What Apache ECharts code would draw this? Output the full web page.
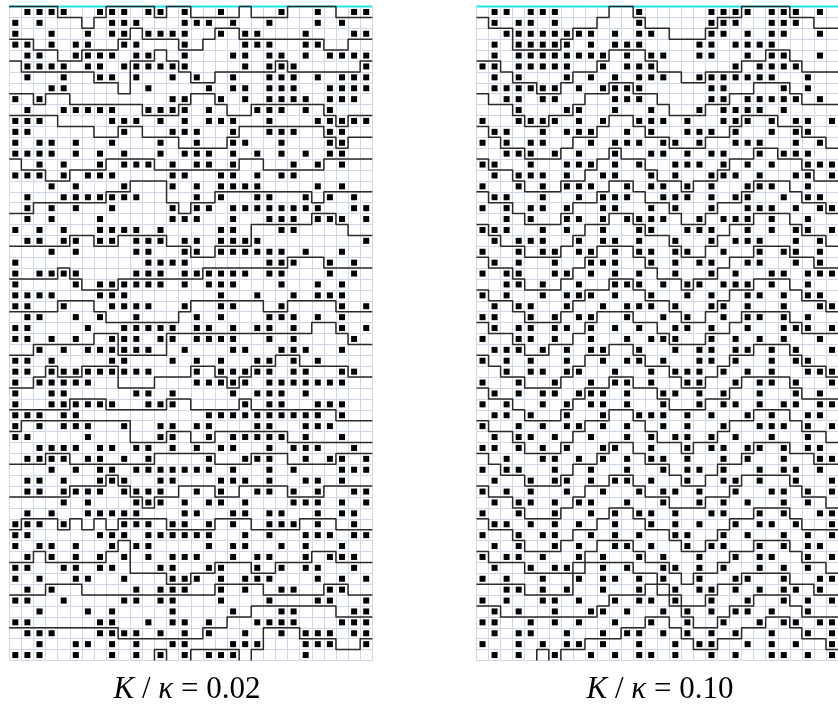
<!DOCTYPE html>
<html><head><meta charset="utf-8">
<script src="https://cdn.jsdelivr.net/npm/echarts@6/dist/echarts.min.js"></script>
<style>html,body{margin:0;padding:0;background:#fff}#chart{width:838px;height:715px}</style>
</head><body><div id="chart"></div>
<script>
// Lattice: 30 columns x 60 rows per panel; '#' marks an occupied site.
const COLS = 30, ROWS = 60;
const panelLabels = ['0.02', '0.10'];

const leftCells = [
".####..###.##.#..#....#..#..##","#.#.....###...###.#..#...#.#..","#..#..#.##.####..#.##...#...##",
"##.#.##..##...#....###..##....",".##..####.##..#...##.##.#.####",".####.##.######....#.###.....#",
".#..#..##.#..#.#..#..###.#.###","...##......#....#.##.###..####","#.#..........##..#.#.####.###.",
".#..#####..####.#...###.#.#...","###.....###.#.#.###..#...#####","##.......#...###..#..###..##..",
"#.##.#..#...#..#..##..#...##..","####.#.#.#..#.###.#.#.#.#.##..","..#.#..#.###.#.##.#....#.#.#..",
"###.#.###....##..##.#.##......","...#.#...#...#.#.####....#.#..",".#..#######....#.#..##..#.#.#.",
".#.#.#..#....#.##.########..##",".#.#...#.....###..#..###.###.#","#.#.#..####.#....##...##......",
".##.##.##.###.##.####........#","...#.#....##..##.######.#..#..","#..........####......###..#.#.",
"#.####....###.######.##...#.#.","#....#.######.#.###...#..#.#..","####...###.......#..#..#.###..",
"##..#...####..#..##...#....#.#",".##..#.#..#....#.#...###.#.#..","##....#..#####.##.#.##.#...#.#",
"##.#.#..###.##.####..#.#....#.","..#.#.######..#...##..###..#..","##.#....##...#.#.#..##.#.#....",
"##.#########...#.#####.##..##.","#.#####........#####.#######..","#..##.....##.#....#.###.#.....",
"#..######..###.....#.##..###..","###.##..........##########.#..","#.#.###..#..##.##...##..###...",
"##....#.....##..#.#####.#..#..","..####.##.##.#.#.##..#.###..#.",".####.##.#.#....#..###..#.##.#",
"...#.#.##.#######.#..#.#...###",".##.#..###..##...###.#..##.#..",".##.####.####..#.#..##.#.#..##",
"....#.#...###.#.##.#...###.#.#",".#.#..#####...##..##.##..#.##.","###.#....###.##.#.#..###.#..#.",
"##.....###.######..#.#..###.##","#.##.#..#.##....#.##..#.#..#..",".#.#.#.#.#.#.###..#.##..#.###.",
"##..##.##...##..##..#.#.##..#.","#.#..##..#...###.#.###...#.#.#",".#.#......#.###..#.#..##..##..",
"##..#....##.##...#...#...##..#","..#...#.#....#....#...##....##","##.....##..#.##.#...####...###",
".###...####.#.#.#..#..#.###.##","..#..##.#.#..##...###...###..#","###..#..#.#.#.#.###.....#....."
];

const rightCells = [
".##.###......#.....####.###.#.",".#.##.#......#.....###..###...","..########.#.##....##.#.##..#.",
".#.#####.#.###....##.####.....",".#.########.#.##..##..#.##..#.","##.#####..#.###......#.####...",
".#.#...#.#.#.###..#######..#..",".######.#.####.....##....#.#..","..##.##....###.....##.#####.#.",
"...#...##..#..#...#.####.#....","#..####.#.#..###.#..###.#.##.#",".##..#.###..#.#..###.#..#.##..",
"#.#.##...#.###.##.#..###..#.#.","..###.#.#..#..##.#.##..#.###..","##..#..###.#.#..###.#.#.#..###",
".#.###.#..##..#.#..###.#..##.#","#..#.#.###..#.##.#.#..###..#..",".##..#..#.###..###.#.##..#.##.",
"#.#.##.#..##..#.#..#..###.#.##","..#.#..##.#.####..#.###.#..#..","###..#.#..#..##..###..#.#.##.#",
".#.###..#.##.#..#..#.###..#.#.","#..#.##.##.#.##.##..#..#.##.#.",".#.#..#..###..#.#.##..##..#.#.",
"#.##..##.#.#.#..#..#.#..##.###","..##.#..#..###.#.##.###.#..#..","#.#..#.###.#..#..#.#..##.#.##.",
".#.##..#..#.###.#..##.#..#..##","##..#.#.##..#..#.#..#.##.#.#..",".#.##.##.#.#.#..##.#..#..###.#",
"#..##.#..#..#.###..#.#.#.#..#.",".###.#.#.##..#..#.##.##.#.#..#","#.#.#..#..#.##.#..##.#..#.##..",
"..#.##.##..#..#.###.#.#.#..###","#..#..#..#.##.#..##..#.##.#..#",".#.#.##.###.#..##.#.#..#..#.#.",
"#.#..#.#.##.#..#..#.##.#.##.##",".##.#..#..#..###.#.#..#.#..##.","#..#.#.##.#.#..#.#..#..###.#.#",
".#.##.#..#..#.#.##.#.#..#..#..","##.#.#.#..##..#..#.##.##.#.##.","..#..##.#.#.#.##.#..#.#..#..##",
"#.##..#..#..#..#.##.#..#.##.#.",".#..#.##.#.##.#..#..##.#..#..#","#.#.#..#..#..#.##.#..#..##.#.#",
".#.##.#.##..#..#..#.#.#..#.#..","#..#..#..#.#.##.#..##..#.#..##",".##.#.#.#..#..#.#.#..#.##.#..#",
"#..#.##..#.#.#..##..#.#..#.#.#",".#.#..#.#..##.#..#.##..#.#.##.","#.##.#..#.#..#.#..#..#.##..#.#",
".#..#.##..#.#..##.#.#..#.#.#..","#.#..#..#.##.#.#..#..##..#..##","..##.#.#..#..#..#.##.#.#.##.#.",
"#.#..##.#..#.##.#..#..#..#.#.#",".#.#..#..##.#..#.#.#.##.#..#..","##..#.#.#..#..#..#..#..#.##.##",
".#.##..#..#.##.#.#.#.#..#..#.#","#..#.#.##.#..#..#.##..#.#.#..#",".#.#..#..#.#.##.#..#.#..##.#.#"
];

// Domain walls: boundary row index for each column (60 = bottom edge, not drawn).
const leftLines = [
[0,0,0,0,1,1,2,1,0,0,0,0,1,0,0,1,1,1,1,0,1,1,1,0,0,0,0,1,1,1],
[3,3,4,4,5,5,4,4,4,3,2,3,3,3,4,4,3,2,2,3,3,3,3,3,3,3,4,4,3,3],
[5,6,6,6,6,6,6,7,7,8,5,5,4,5,6,7,7,6,6,6,6,6,5,6,6,6,6,6,6,5],
[8,8,9,8,8,9,9,9,9,9,9,10,10,10,9,8,8,9,10,10,9,9,9,9,9,9,10,11,10,10],
[10,10,10,10,11,11,11,12,12,11,11,12,12,12,13,13,13,13,12,11,11,11,11,11,11,11,12,13,12,12],
[14,15,15,16,16,15,15,15,14,14,14,14,15,15,15,15,15,15,15,14,14,15,15,15,15,15,14,14,14,14],
[19,19,18,18,18,18,18,18,17,17,16,16,16,18,19,18,18,17,17,17,17,17,17,17,17,18,17,17,17,17],
[22,22,22,22,22,21,21,22,22,21,21,21,21,22,22,23,23,22,22,22,20,20,20,20,20,19,19,20,21,21],
[25,25,25,25,24,25,26,26,26,25,25,25,25,25,25,25,24,24,24,24,24,24,24,23,23,23,24,24,24,24],
[28,28,28,28,27,27,27,28,29,29,29,29,29,29,28,27,27,27,27,27,27,28,28,27,27,27,27,28,28,28],
[32,32,31,31,31,31,31,30,30,32,32,32,32,30,30,30,30,30,30,30,30,30,30,30,30,29,29,30,31,31],
[35,35,34,33,34,34,33,33,33,35,35,35,34,34,34,33,33,34,35,34,33,33,32,32,33,33,33,33,34,34],
[37,37,37,37,37,36,36,36,37,37,37,37,37,36,36,37,37,37,37,36,37,37,37,37,37,37,37,38,38,38],
[39,38,38,38,38,38,38,38,38,38,40,40,40,39,39,40,40,39,39,39,39,39,39,40,40,40,40,40,40,40],
[42,42,42,41,41,42,42,42,42,42,42,42,41,41,41,41,41,42,42,42,41,41,41,42,42,42,42,41,41,41],
[45,45,45,45,45,44,44,44,43,44,45,46,45,45,44,44,44,45,45,44,44,44,44,45,45,45,44,44,44,44],
[48,47,47,47,48,47,48,47,48,47,47,47,47,48,48,48,48,47,47,47,48,48,48,48,47,47,47,48,48,48],
[51,51,50,51,51,51,51,51,50,49,52,52,52,53,53,52,52,51,51,51,52,52,51,51,51,50,50,51,51,51],
[54,54,54,53,53,53,54,54,54,54,54,54,54,54,54,54,54,53,53,53,53,54,54,54,54,54,53,53,54,54],
[57,57,57,57,57,57,57,57,57,58,58,58,58,58,58,58,57,57,56,56,55,55,55,55,55,55,55,56,56,56],
[60,60,60,60,60,60,60,60,60,60,60,60,59,60,60,59,59,59,59,60,59,57,57,57,58,58,58,59,59,58]
];

const rightLines = [
[1,2,2,4,4,4,4,3,2,2,1,0,0,1,2,2,3,3,3,2,1,1,0,0,0,0,1,1,2,2],
[5,5,6,7,7,8,8,7,6,6,5,4,4,4,5,6,6,7,7,6,6,6,5,5,4,4,5,6,6,6],
[8,9,9,10,11,11,10,10,9,8,8,7,7,8,8,9,10,10,10,9,9,8,8,7,7,7,8,9,9,9],
[11,12,13,13,14,14,14,13,12,12,11,10,10,11,12,12,13,13,13,12,12,11,10,10,10,11,11,12,12,13],
[14,15,15,16,17,17,17,16,16,15,14,13,14,14,15,16,16,17,16,16,15,14,14,13,13,14,14,15,16,16],
[17,18,18,19,20,20,20,19,18,18,17,16,16,17,18,18,19,20,20,19,18,18,17,16,16,16,17,18,18,19],
[20,21,22,22,23,23,23,22,21,20,20,19,19,20,21,21,22,23,23,22,21,20,20,19,19,19,20,21,21,22],
[23,24,24,25,26,26,26,25,24,23,22,22,22,23,24,25,25,26,25,25,24,23,23,22,22,22,23,23,24,24],
[26,27,27,28,29,29,29,28,27,26,26,25,25,26,27,27,28,29,29,28,27,26,26,25,25,25,26,27,27,28],
[29,30,30,31,32,32,31,31,30,29,28,28,28,29,29,30,31,31,31,30,30,29,28,28,28,28,29,30,30,30],
[32,33,34,34,35,35,35,34,33,32,32,31,31,32,33,33,34,35,35,34,33,32,32,31,31,31,32,33,33,34],
[35,36,36,37,38,38,38,37,36,35,35,34,34,35,35,36,37,37,37,36,36,35,34,34,34,34,35,36,36,36],
[38,39,39,40,41,41,41,40,39,38,38,37,37,38,39,40,40,41,40,40,39,38,38,37,37,37,38,39,39,40],
[41,42,43,43,44,44,44,43,42,42,41,40,40,41,42,42,43,44,44,43,42,42,41,40,40,40,41,41,42,42],
[44,45,45,46,47,47,47,46,45,44,44,43,43,44,45,45,46,46,46,45,45,44,43,43,43,43,44,45,45,46],
[47,48,48,49,50,50,50,49,48,48,47,46,46,47,48,48,49,50,50,49,48,47,47,46,46,46,47,48,48,48],
[50,51,51,51,52,52,52,52,51,50,49,49,49,50,51,51,52,53,52,52,51,50,50,49,49,49,50,51,51,52],
[53,53,53,53,54,54,54,54,52,51,51,51,51,52,52,53,54,55,55,54,53,53,52,52,52,52,53,53,54,54],
[55,55,56,56,56,56,56,56,56,56,55,54,54,54,53,54,55,56,57,57,56,55,55,54,54,54,55,56,56,56],
[60,60,60,60,60,59,60,59,59,58,58,58,57,57,56,56,57,58,59,59,58,58,57,57,56,56,57,58,58,59]
];

function cellPoints(rows) {
  const pts = [];
  rows.forEach((s, r) => {
    for (let c = 0; c < COLS; c++) if (s[c] === '#') pts.push([c + 0.5, r + 0.5]);
  });
  return pts;
}

// Turn a column->level array into step polylines; level 60 lies on the bottom edge.
function stepRuns(levels) {
  const runs = [];
  let cur = null;
  for (let c = 0; c < levels.length; c++) {
    const v = levels[c];
    if (v == null || v >= ROWS) {
      if (cur) { if (v != null) cur.push([c, ROWS]); runs.push(cur); cur = null; }
      continue;
    }
    if (!cur) {
      cur = [];
      if (c > 0 && levels[c - 1] >= ROWS) cur.push([c, ROWS]);
    }
    cur.push([c, v]);
    cur.push([c + 1, v]);
  }
  if (cur) runs.push(cur);
  return runs;
}

const panels = [
  { cells: leftCells, lines: leftLines, grid: { left: 9.25, top: 6.5, width: 363, height: 654 } },
  { cells: rightCells, lines: rightLines, grid: { left: 476.5, top: 6.5, width: 366, height: 654 } }
];

const grids = [], xAxes = [], yAxes = [], series = [];
const gridLine = { show: true, lineStyle: { color: '#d0d7e8', width: 1 } };
panels.forEach((p, i) => {
  grids.push(p.grid);
  xAxes.push({ gridIndex: i, type: 'value', min: 0, max: COLS, interval: 1,
    axisLine: { show: false }, axisTick: { show: false }, axisLabel: { show: false }, splitLine: gridLine });
  yAxes.push({ gridIndex: i, type: 'value', min: 0, max: ROWS, interval: 1, inverse: true,
    axisLine: { show: false }, axisTick: { show: false }, axisLabel: { show: false }, splitLine: gridLine });
  series.push({ type: 'line', xAxisIndex: i, yAxisIndex: i, data: [[0, 0], [COLS, 0]],
    showSymbol: false, symbol: 'none', clip: false, silent: true, z: 2,
    lineStyle: { color: '#20e6f2', width: 2 } });
  series.push({ type: 'scatter', xAxisIndex: i, yAxisIndex: i, data: cellPoints(p.cells),
    symbol: 'rect', symbolSize: 6, silent: true, z: 3, itemStyle: { color: '#000', opacity: 1 } });
  p.lines.forEach(levels => {
    stepRuns(levels).forEach(run => {
      series.push({ type: 'line', xAxisIndex: i, yAxisIndex: i, data: run,
        showSymbol: false, symbol: 'none', clip: false, silent: true, z: 4,
        lineStyle: { color: '#2a2a2a', width: 1.5 } });
    });
  });
});

const labelStyle = (txt) => ({
  text: '{i|K} / {i|κ} = ' + txt,
  rich: { i: { fontStyle: 'italic', fontFamily: 'Liberation Serif', fontSize: 31, fill: '#000' } },
  fontFamily: 'Liberation Serif', fontSize: 31, fill: '#000', align: 'center', verticalAlign: 'middle'
});

const chart = echarts.init(document.getElementById('chart'), null, { renderer: 'canvas' });
chart.setOption({
  animation: false,
  grid: grids, xAxis: xAxes, yAxis: yAxes, series: series,
  graphic: [
    { type: 'text', x: 187, y: 690, style: labelStyle(panelLabels[0]) },
    { type: 'text', x: 660, y: 690, style: labelStyle(panelLabels[1]) }
  ]
});
</script></body></html>
